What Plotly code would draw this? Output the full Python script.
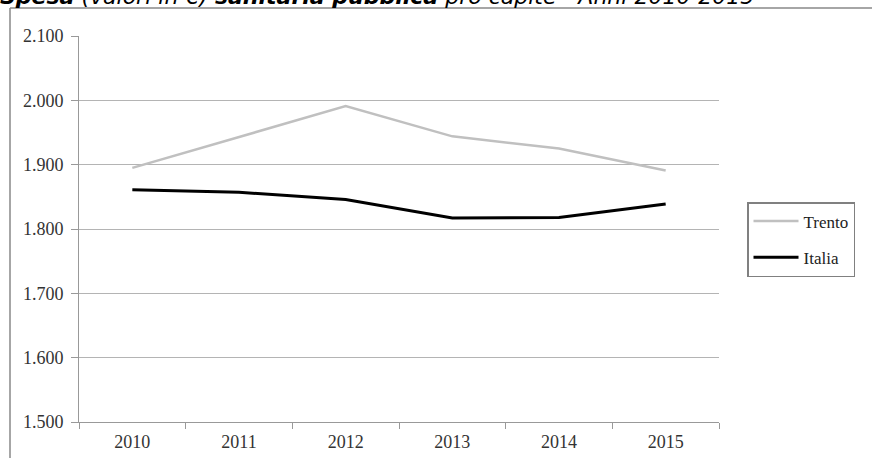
import plotly.graph_objects as go

# Spesa sanitaria pubblica pro capite (euro), 2010-2015
anni = ["2010", "2011", "2012", "2013", "2014", "2015"]
trento = [1895, 1943, 1991, 1944, 1925, 1891]
italia = [1861, 1857, 1846, 1817, 1818, 1839]

W, H = 872, 458
L, R, T, B = 79, 153, 36, 36
pw, ph = W - L - R, H - T - B


def px_x(x):
    return (x - L) / pw


def px_y(y):
    return (H - B - y) / ph


fig = go.Figure()

fig.add_trace(go.Scatter(
    x=anni, y=trento,
    mode='lines',
    name='Trento',
    legendgroup='trento',
    line=dict(color='#c0c0c0', width=2.5),
    hovertemplate='%{x}: %{y:,}<extra>Trento</extra>'
))

fig.add_trace(go.Scatter(
    x=anni, y=italia,
    mode='lines',
    name='Italia',
    legendgroup='italia',
    line=dict(color='#000000', width=3),
    hovertemplate='%{x}: %{y:,}<extra>Italia</extra>'
))

# outer frame of the original image (left and top edges only)
frame = dict(type='line', xref='paper', yref='paper',
             line=dict(color='#888888', width=1.5))
fig.add_shape(x0=px_x(10), x1=px_x(10), y0=px_y(8), y1=px_y(H + 5), **frame)
fig.add_shape(x0=px_x(10), x1=px_x(W + 5), y0=px_y(8), y1=px_y(8), **frame)

fig.add_annotation(
    text="<b><i>Spesa</i></b><i> (valori in €) </i><b><i>sanitaria pubblica</i></b>"
         "<i> pro capite - Anni 2010-2015</i>",
    xref='paper', yref='paper',
    x=px_x(-2), y=px_y(11),
    xanchor='left', yanchor='bottom',
    showarrow=False,
    font=dict(family='DejaVu Sans', size=22, color='#000000')
)

tick_font = dict(family='Liberation Serif', size=18, color='#333333')

fig.update_layout(
    width=W, height=H,
    margin=dict(l=L, r=R, t=T, b=B, autoexpand=False),
    paper_bgcolor='white',
    plot_bgcolor='white',
    separators=',.',
    showlegend=True,
    legend=dict(
        x=px_x(747), y=px_y(202),
        xanchor='left', yanchor='top',
        bordercolor='#808080', borderwidth=1.5,
        font=dict(family='Liberation Serif', size=17, color='#222222'),
        tracegroupgap=11,
        itemwidth=45,
    ),
    xaxis=dict(
        type='category',
        range=[-0.5, 5.5],
        tickson='boundaries',
        ticks='outside', ticklen=6, tickcolor='#999999',
        ticklabelstandoff=3,
        showline=True, linecolor='#999999', linewidth=1,
        showgrid=False,
        tickfont=tick_font,
        automargin=False,
        fixedrange=True,
    ),
    yaxis=dict(
        range=[1500, 2100],
        dtick=100,
        tickformat=',',
        ticks='outside', ticklen=7, tickcolor='#999999',
        ticklabelstandoff=4,
        showline=True, linecolor='#999999', linewidth=1,
        showgrid=True, gridcolor='#b4b4b4', gridwidth=1,
        zeroline=False,
        tickfont=tick_font,
        automargin=False,
        fixedrange=True,
    ),
)

fig.write_html("out.html", config={'displayModeBar': False},
               post_script="document.body.style.margin = '0';")
